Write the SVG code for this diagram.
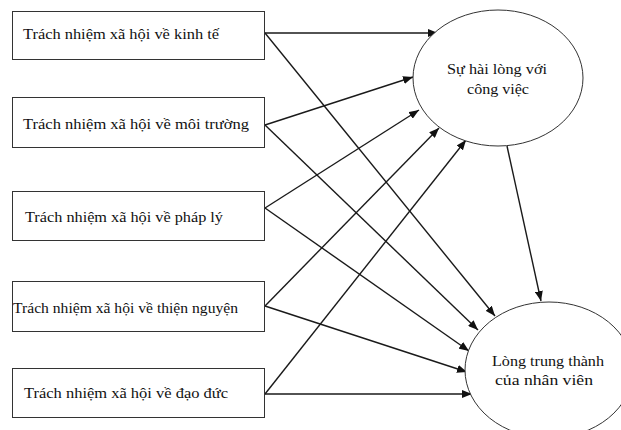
<svg xmlns="http://www.w3.org/2000/svg" width="621" height="430" viewBox="0 0 621 430">
<defs>
<marker id="ah" markerWidth="10" markerHeight="8" refX="10" refY="4" orient="auto" markerUnits="userSpaceOnUse">
<path d="M0,0 L10,4 L0,8 Z" fill="#111"/>
</marker>
<style>
.box{fill:#fff;stroke:#333;stroke-width:1}
.ell{fill:#fff;stroke:#333;stroke-width:1}
.t{font-family:"Liberation Serif","Times New Roman",serif;font-size:14px;fill:#111}
.c{text-anchor:middle}
.con line{stroke:#1a1a1a;stroke-width:1.4;marker-end:url(#ah)}
</style>
</defs>
<rect width="621" height="430" fill="#fff"/>
<g id="connectors" class="con">
<line x1="265" y1="33" x2="438" y2="33"/>
<line x1="265" y1="33" x2="495" y2="316"/>
<line x1="265" y1="125" x2="413" y2="77"/>
<line x1="265" y1="125" x2="478" y2="330"/>
<line x1="265" y1="208" x2="419" y2="110"/>
<line x1="265" y1="208" x2="469" y2="351"/>
<line x1="265" y1="306" x2="439" y2="128"/>
<line x1="265" y1="306" x2="467" y2="372"/>
<line x1="265" y1="394" x2="466" y2="140"/>
<line x1="265" y1="394" x2="472" y2="394"/>
<line x1="507" y1="146" x2="541" y2="301"/>
</g>
<g id="n1"><rect class="box" x="12.5" y="11.5" width="252" height="48"/><text class="t" x="23" y="39" textLength="196" lengthAdjust="spacingAndGlyphs">Trách nhiệm xã hội về kinh tế</text></g>
<g id="n2"><rect class="box" x="12.5" y="97.5" width="252" height="50"/><text class="t" x="23" y="129" textLength="226" lengthAdjust="spacingAndGlyphs">Trách nhiệm xã hội về môi trường</text></g>
<g id="n3"><rect class="box" x="12.5" y="191.5" width="252" height="49"/><text class="t" x="25" y="222" textLength="198" lengthAdjust="spacingAndGlyphs">Trách nhiệm xã hội về pháp lý</text></g>
<g id="n4"><rect class="box" x="12.5" y="281.5" width="252" height="50"/><text class="t" x="13" y="313" textLength="225" lengthAdjust="spacingAndGlyphs">Trách nhiệm xã hội về thiện nguyện</text></g>
<g id="n5"><rect class="box" x="12.5" y="368.5" width="252" height="49"/><text class="t" x="24" y="398" textLength="204" lengthAdjust="spacingAndGlyphs">Trách nhiệm xã hội về đạo đức</text></g>
<g id="e1"><ellipse class="ell" cx="498" cy="78" rx="85" ry="68"/><text class="t c" x="497" y="74" textLength="100" lengthAdjust="spacingAndGlyphs">Sự hài lòng với</text><text class="t c" x="498" y="94" textLength="62" lengthAdjust="spacingAndGlyphs">công việc</text></g>
<g id="e2"><ellipse class="ell" cx="549" cy="370" rx="84" ry="68"/><text class="t c" x="548" y="366" textLength="112" lengthAdjust="spacingAndGlyphs">Lòng trung thành</text><text class="t c" x="544" y="385" textLength="98" lengthAdjust="spacingAndGlyphs">của nhân viên</text></g>
</svg>
